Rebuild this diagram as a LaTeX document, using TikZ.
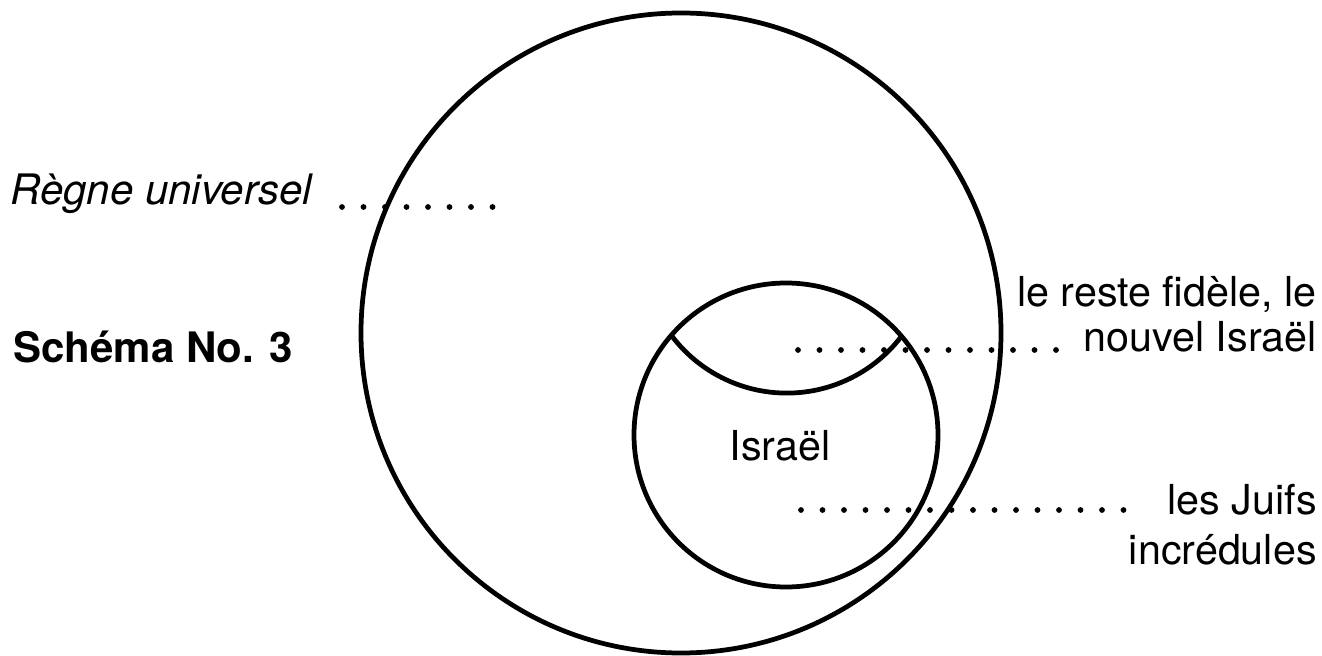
\documentclass[tikz,border=0pt]{standalone}
\usepackage{fontspec}
\setmainfont{TeX Gyre Heros}

\begin{document}
\begin{tikzpicture}[
    ring/.style={circle,draw,line width=0.095cm,inner sep=0pt,outer sep=0pt},
    leader/.style={line width=0.115cm,line cap=round,dash pattern=on 0pt off 0.43cm},
    lbl/.style={inner sep=0pt,font=\fontsize{23.5}{28}\selectfont}]
  \useasboundingbox (0,0) rectangle (26.44,13.1);
  \node[ring,minimum size=12.8cm] (reign) at (13.62,6.44) {};
  \node[ring,minimum size=6.08cm] (israelring) at (15.72,4.40) {};
  \draw[line width=0.095cm] (israelring.139.5)
    arc[start angle=216.8,end angle=323.2,radius=2.884];
  \node[lbl,anchor=base west,font=\fontsize{23.9}{28}\selectfont\itshape] (regne) at (0.2,9.0) {Règne universel};
  \node[lbl,anchor=base west,font=\fontsize{23.9}{28}\selectfont\bfseries] (schema) at (0.26,5.84) {Schéma No. 3};
  \node[lbl,anchor=base] (israel) at (15.6,3.88) {Israël};
  \node[lbl,anchor=base east] (reste) at (26.34,6.96) {le reste fidèle, le};
  \node[lbl,anchor=base east] (nouvel) at (26.34,6.06) {nouvel Israël};
  \node[lbl,anchor=base east] (juifs) at (26.34,2.82) {les Juifs};
  \node[lbl,anchor=base east] (incredules) at (26.34,1.82) {incrédules};
  \coordinate (regne-dots) at (6.84,8.96);
  \coordinate (reste-dots) at (15.96,6.10);
  \coordinate (juifs-dots) at (16.02,2.90);
  \draw[leader] (regne-dots) -- ++(3.02,0);
  \draw[leader] (reste-dots) -- ++(5.17,0);
  \draw[leader] (juifs-dots) -- ++(6.46,0);
\end{tikzpicture}
\end{document}
